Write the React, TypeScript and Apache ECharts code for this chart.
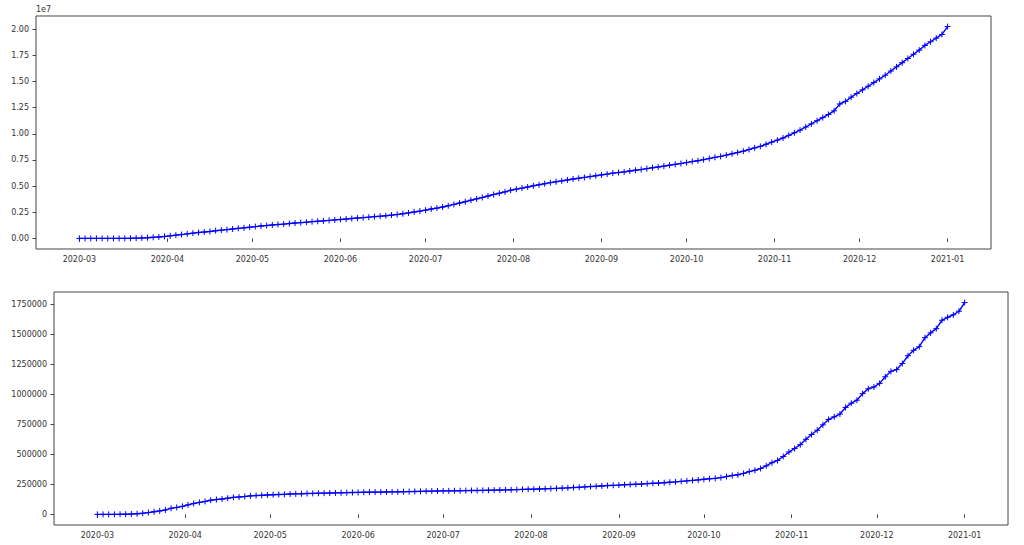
import React, { useEffect, useRef } from "react";
import * as echarts from "echarts";

// Sampling: every 2 days from 2020-03-01 to 2021-01-01
const START_YEAR = 2020;
const START_MONTH = 2; // March (0-based)
const START_DAY = 1;
const STEP_DAYS = 2;

const monthTickLabels = [
  "2020-03", "2020-04", "2020-05", "2020-06", "2020-07", "2020-08",
  "2020-09", "2020-10", "2020-11", "2020-12", "2021-01",
];

const topTickValues = [0, 2500000, 5000000, 7500000, 10000000, 12500000, 15000000, 17500000, 20000000];
const bottomTickValues = [0, 250000, 500000, 750000, 1000000, 1250000, 1500000, 1750000];

const usCases = [
  // Mar
  80, 120, 220, 450, 700, 1300, 2200, 3600, 6400, 13700, 25500, 43700, 68600, 104000, 141000, 188000,
  // Apr
  244000, 311000, 367000, 432000, 502000, 560000, 610000, 667000, 734000, 787000, 842000, 906000, 964000, 1012000, 1070000,
  // May
  1130000, 1180000, 1230000, 1285000, 1330000, 1370000, 1420000, 1470000, 1510000, 1550000, 1600000, 1640000, 1680000, 1720000, 1770000,
  // Jun
  1810000, 1850000, 1900000, 1945000, 1985000, 2030000, 2080000, 2120000, 2170000, 2230000, 2290000, 2360000, 2440000, 2530000, 2610000,
  // Jul
  2700000, 2810000, 2900000, 3000000, 3120000, 3250000, 3380000, 3510000, 3650000, 3780000, 3910000, 4050000, 4200000, 4320000, 4450000, 4600000,
  // Aug
  4710000, 4810000, 4920000, 5030000, 5130000, 5230000, 5330000, 5420000, 5500000, 5590000, 5680000, 5750000, 5830000, 5910000, 5990000,
  // Sep
  6070000, 6150000, 6240000, 6300000, 6360000, 6440000, 6520000, 6590000, 6670000, 6760000, 6830000, 6910000, 7000000, 7080000, 7160000,
  // Oct
  7250000, 7350000, 7430000, 7530000, 7640000, 7750000, 7840000, 7960000, 8090000, 8210000, 8340000, 8500000, 8650000, 8800000, 9000000, 9200000,
  // Nov
  9400000, 9600000, 9850000, 10100000, 10350000, 10650000, 10950000, 11250000, 11550000, 11850000, 12200000, 12850000, 13100000, 13500000, 13850000,
  // Dec
  14200000, 14550000, 14900000, 15250000, 15600000, 16000000, 16400000, 16800000, 17200000, 17600000, 18000000, 18450000, 18800000, 19150000, 19500000,
  // Jan 1
  20250000,
];

const deCases = [
  // Mar
  130, 200, 400, 800, 1200, 1900, 3700, 5800, 9400, 15300, 22200, 29100, 37300, 50900, 58200, 67400,
  // Apr
  79700, 91200, 100000, 108000, 118000, 124000, 128000, 135000, 142000, 145000, 149000, 154000, 157000, 159000, 162000,
  // May
  164000, 166000, 167000, 170000, 171000, 172000, 174000, 175000, 176000, 177000, 178000, 179000, 180000, 181000, 182000,
  // Jun
  183000, 184000, 185000, 185500, 186000, 187000, 187500, 188000, 189000, 190000, 191000, 192000, 193000, 194000, 195000,
  // Jul
  195500, 196000, 197000, 197500, 198000, 199000, 199500, 200000, 201000, 202000, 203000, 204000, 205000, 206000, 208000, 209000,
  // Aug
  210000, 212000, 213000, 215000, 217000, 219000, 221000, 224000, 226000, 229000, 232000, 234000, 237000, 240000, 242000,
  // Sep
  244000, 247000, 249000, 251000, 253000, 256000, 259000, 261000, 264000, 268000, 271000, 275000, 279000, 283000, 287000,
  // Oct
  292000, 297000, 300000, 306000, 315000, 324000, 330000, 341000, 356000, 367000, 382000, 404000, 430000, 449000, 482000, 519000,
  // Nov
  548000, 580000, 625000, 665000, 700000, 745000, 790000, 812000, 835000, 890000, 925000, 950000, 1005000, 1045000, 1060000,
  // Dec
  1090000, 1145000, 1190000, 1205000, 1255000, 1320000, 1365000, 1395000, 1470000, 1510000, 1545000, 1615000, 1640000, 1660000, 1690000,
  // Jan 1
  1762000,
];

const LINE_COLOR = "#0000ff";
const FRAME_COLOR = "#444";
const TEXT_COLOR = "#333";
const PLUS = "path://M5 0L5 10M0 5L10 5";

function dateAt(i: number): number {
  return new Date(START_YEAR, START_MONTH, START_DAY + i * STEP_DAYS).getTime();
}

function monthTs(label: string): number {
  const [y, m] = label.split("-").map(Number);
  return new Date(y, m - 1, 1).getTime();
}

function fmtMonth(v: number): string {
  const d = new Date(v + 12 * 3600 * 1000);
  return `${d.getFullYear()}-${String(d.getMonth() + 1).padStart(2, "0")}`;
}

export default function App() {
  const ref = useRef<HTMLDivElement>(null);

  useEffect(() => {
    if (!ref.current) return;
    const chart = echarts.init(ref.current, undefined, { renderer: "svg" });

    const n = usCases.length;
    const xs = usCases.map((_, i) => dateAt(i));
    const x0 = xs[0];
    const x1 = xs[n - 1];
    const xPad = (x1 - x0) * 0.05;
    const monthVals = monthTickLabels.map(monthTs);

    const yRange = (arr: number[]) => {
      const mn = Math.min(...arr);
      const mx = Math.max(...arr);
      const p = (mx - mn) * 0.05;
      return [mn - p, mx + p];
    };
    const [t0, t1] = yRange(usCases);
    const [b0, b1] = yRange(deCases);

    const font = { fontFamily: "DejaVu Sans", fontSize: 8, color: TEXT_COLOR };

    const xAxisBase = (gridIndex: number) => ({
      type: "value",
      gridIndex,
      min: x0 - xPad,
      max: x1 + xPad,
      axisLine: { show: false },
      splitLine: { show: false },
      axisTick: {
        show: true,
        length: 3.5,
        lineStyle: { color: FRAME_COLOR, width: 1 },
        customValues: monthVals,
      },
      axisLabel: {
        ...font,
        margin: 6,
        customValues: monthVals,
        formatter: (v: number) => fmtMonth(v),
      },
    });

    const option: any = {
      animation: false,
      backgroundColor: "#ffffff",
      grid: [
        { left: 36, top: 16, width: 955, height: 233, show: true, borderColor: FRAME_COLOR, borderWidth: 1 },
        { left: 54, top: 292, width: 954, height: 233, show: true, borderColor: FRAME_COLOR, borderWidth: 1 },
      ],
      xAxis: [xAxisBase(0), xAxisBase(1)],
      yAxis: [
        {
          type: "value",
          gridIndex: 0,
          min: t0,
          max: t1,
          name: "1e7",
          nameLocation: "end",
          nameGap: 3,
          nameTextStyle: { ...font, align: "left" },
          axisLine: { show: false },
          splitLine: { show: false },
          axisTick: {
            show: true,
            length: 3.5,
            lineStyle: { color: FRAME_COLOR, width: 1 },
            customValues: topTickValues,
          },
          axisLabel: {
            ...font,
            margin: 7,
            customValues: topTickValues,
            formatter: (v: number) => (v / 1e7).toFixed(2),
          },
        },
        {
          type: "value",
          gridIndex: 1,
          min: b0,
          max: b1,
          axisLine: { show: false },
          splitLine: { show: false },
          axisTick: {
            show: true,
            length: 3.5,
            lineStyle: { color: FRAME_COLOR, width: 1 },
            customValues: bottomTickValues,
          },
          axisLabel: {
            ...font,
            margin: 7,
            customValues: bottomTickValues,
            formatter: (v: number) => String(Math.round(v)),
          },
        },
      ],
      series: [
        {
          type: "line",
          xAxisIndex: 0,
          yAxisIndex: 0,
          data: xs.map((t, i) => [t, usCases[i]]),
          symbol: PLUS,
          symbolSize: 6,
          showAllSymbol: true,
          lineStyle: { color: LINE_COLOR, width: 1.4 },
          itemStyle: { color: LINE_COLOR, borderColor: LINE_COLOR, borderWidth: 1 },
        },
        {
          type: "line",
          xAxisIndex: 1,
          yAxisIndex: 1,
          data: xs.map((t, i) => [t, deCases[i]]),
          symbol: PLUS,
          symbolSize: 6,
          showAllSymbol: true,
          lineStyle: { color: LINE_COLOR, width: 1.4 },
          itemStyle: { color: LINE_COLOR, borderColor: LINE_COLOR, borderWidth: 1 },
        },
      ],
    };

    chart.setOption(option);
    return () => chart.dispose();
  }, []);

  return (
    <div
      ref={ref}
      style={{ position: "absolute", left: 0, top: 0, width: 1024, height: 545, background: "#fff" }}
    />
  );
}
